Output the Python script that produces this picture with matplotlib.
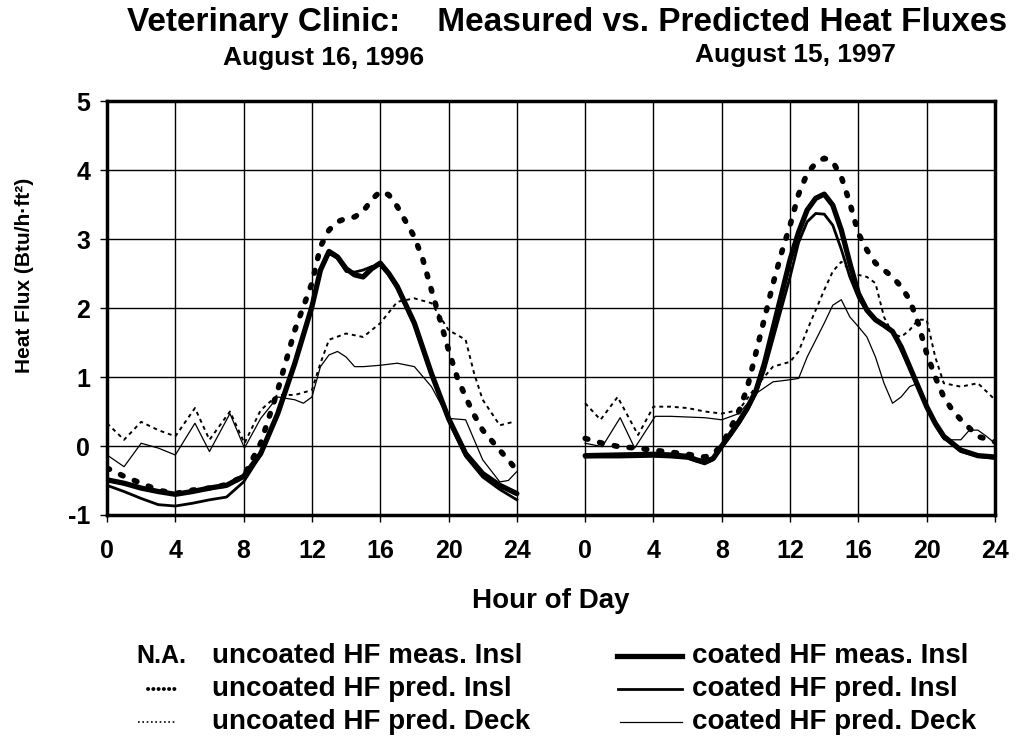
import matplotlib
matplotlib.use("Agg")
import matplotlib.pyplot as plt
from matplotlib.lines import Line2D

plt.rcParams['font.family'] = ['Liberation Sans', 'DejaVu Sans']
plt.rcParams['font.weight'] = 'bold'
plt.rcParams['axes.unicode_minus'] = False

# ---- data (hour of day, Btu/h.ft2) ----
# day 1: August 16, 1996
d1_meas_h = [0, 1, 2, 3, 4, 5, 6, 7, 8, 9, 10, 11, 12, 12.5, 13, 13.5, 14, 14.5, 15, 15.5,
             16, 16.5, 17, 18, 19, 20, 21, 22, 23, 24]
d1_meas = [-0.49, -0.54, -0.61, -0.66, -0.70, -0.66, -0.61, -0.57, -0.44, -0.11, 0.47, 1.20,
           2.02, 2.55, 2.82, 2.74, 2.57, 2.48, 2.45, 2.57, 2.65, 2.50, 2.31, 1.78, 1.05, 0.40,
           -0.11, -0.40, -0.57, -0.69]

d1_predins_h = d1_meas_h
d1_predins = [-0.57, -0.66, -0.76, -0.85, -0.87, -0.83, -0.78, -0.74, -0.52, -0.13, 0.45, 1.18,
              2.00, 2.55, 2.79, 2.72, 2.53, 2.52, 2.55, 2.60, 2.62, 2.48, 2.28, 1.75, 1.02, 0.37,
              -0.15, -0.45, -0.63, -0.78]

d1_unc_ins_h = [0, 1, 2, 3, 4, 5, 6, 7, 8, 9, 10, 11, 11.5, 12, 12.5, 13, 13.5, 14, 14.5, 15,
                15.5, 16, 16.5, 17, 17.5, 18, 18.5, 19, 19.5, 20, 20.5, 21, 21.5, 22, 23, 24]
d1_unc_ins = [-0.32, -0.44, -0.54, -0.64, -0.69, -0.64, -0.61, -0.56, -0.44, 0.04, 0.81, 1.68,
              2.02, 2.36, 2.89, 3.13, 3.25, 3.30, 3.32, 3.40, 3.57, 3.69, 3.64, 3.47, 3.25, 3.03,
              2.70, 2.26, 1.83, 1.39, 1.00, 0.71, 0.45, 0.23, -0.06, -0.35]

d1_unc_deck_h = [0, 1, 2, 3, 4, 5.15, 6, 7.2, 8.05, 9, 10, 11, 12, 12.5, 13, 14, 15, 16, 17, 18,
                 19, 20, 21, 21.5, 22, 23, 23.8]
d1_unc_deck = [0.33, 0.09, 0.35, 0.23, 0.14, 0.55, 0.09, 0.50, 0.04, 0.52, 0.74, 0.74, 0.81,
               1.20, 1.54, 1.63, 1.58, 1.78, 2.09, 2.14, 2.07, 1.68, 1.54, 1.05, 0.67, 0.30, 0.35]

d1_coat_deck_h = [0, 1, 2, 3, 4, 5.15, 6, 7.2, 8.05, 9, 10, 11, 11.5, 12, 12.5, 13, 13.5, 14,
                  14.5, 15, 16, 17, 18, 19, 20, 21, 22, 23, 23.5, 24]
d1_coat_deck = [-0.13, -0.30, 0.04, -0.03, -0.13, 0.33, -0.08, 0.47, -0.03, 0.40, 0.71, 0.67,
                0.62, 0.71, 1.15, 1.32, 1.37, 1.29, 1.15, 1.15, 1.17, 1.20, 1.15, 0.86, 0.40,
                0.38, -0.20, -0.52, -0.50, -0.37]

# day 2: August 15, 1997
d2_meas_h = [0, 2, 4, 5, 6, 6.5, 7, 7.5, 8, 8.5, 9, 9.5, 10, 10.5, 11, 11.5, 12, 12.5, 13, 13.5,
             14, 14.5, 15, 15.5, 16, 16.5, 17, 17.5, 18, 18.5, 19, 19.5, 20, 20.5, 21, 22, 23, 24]
d2_meas = [-0.14, -0.13, -0.12, -0.13, -0.15, -0.20, -0.23, -0.18, 0.0, 0.17, 0.35, 0.55, 0.80,
           1.20, 1.70, 2.20, 2.70, 3.10, 3.42, 3.59, 3.65, 3.49, 3.13, 2.65, 2.21, 1.97, 1.83,
           1.75, 1.66, 1.44, 1.15, 0.86, 0.57, 0.33, 0.14, -0.06, -0.14, -0.16]

d2_predins_h = [0, 2, 4, 5, 6, 6.5, 7, 7.5, 8, 8.5, 9, 9.5, 10, 10.5, 11, 11.5, 12, 12.5, 13,
                13.5, 14, 14.5, 15, 15.5, 16, 16.5, 17, 18, 19, 20, 21, 22, 23, 24]
d2_predins = [-0.16, -0.16, -0.15, -0.16, -0.18, -0.22, -0.26, -0.20, -0.02, 0.15, 0.32, 0.52,
              0.76, 1.10, 1.55, 2.00, 2.45, 2.95, 3.25, 3.37, 3.36, 3.20, 2.85, 2.45, 2.15, 1.95,
              1.82, 1.65, 1.13, 0.55, 0.12, -0.08, -0.15, -0.18]

d2_unc_ins_h = [0, 1, 2, 3, 4, 5, 6, 7, 7.5, 8, 8.5, 9, 9.5, 10, 10.5, 11, 11.5, 12, 12.5, 13,
                13.5, 14, 14.5, 15, 15.5, 16, 16.5, 17, 17.5, 18, 18.5, 19, 19.5, 20, 20.5, 21,
                21.5, 22, 23, 24]
d2_unc_ins = [0.11, 0.04, -0.01, -0.03, -0.06, -0.09, -0.12, -0.16, -0.12, 0.02, 0.25, 0.50,
              0.85, 1.35, 1.85, 2.35, 2.80, 3.20, 3.65, 3.95, 4.10, 4.17, 4.12, 3.90, 3.52, 3.08,
              2.84, 2.65, 2.55, 2.45, 2.31, 2.12, 1.78, 1.34, 1.00, 0.71, 0.52, 0.38, 0.14, 0.06]

d2_unc_deck_h = [0, 0.9, 1.9, 3.1, 4, 5, 6, 7, 8, 9, 10, 11, 12, 12.5, 13, 14, 14.5, 15, 15.5,
                 16, 16.5, 17, 17.5, 18, 18.5, 19, 19.5, 20, 20.5, 21, 22, 23, 24]
d2_unc_deck = [0.62, 0.38, 0.71, 0.16, 0.57, 0.57, 0.55, 0.50, 0.47, 0.52, 0.86, 1.15, 1.22,
               1.37, 1.68, 2.26, 2.53, 2.67, 2.55, 2.48, 2.45, 2.36, 1.87, 1.63, 1.58, 1.68,
               1.83, 1.83, 1.29, 0.91, 0.86, 0.91, 0.67]

d2_coat_deck_h = [0, 1, 2.05, 2.9, 4.1, 5, 6, 7, 8, 9, 10, 11, 12, 12.5, 13, 14, 14.5, 15,
                  15.5, 16, 16.5, 17, 17.5, 18, 18.5, 19, 19.5, 20, 20.5, 21, 22, 22.5, 23,
                  23.5, 24]
d2_coat_deck = [0.04, -0.01, 0.41, -0.03, 0.43, 0.43, 0.42, 0.41, 0.38, 0.47, 0.76, 0.93, 0.96,
                0.98, 1.29, 1.78, 2.04, 2.12, 1.87, 1.73, 1.58, 1.29, 0.91, 0.62, 0.71, 0.86,
                0.91, 0.62, 0.28, 0.09, 0.09, 0.23, 0.23, 0.14, 0.04]

DAY2_OFFSET = 28
tick_pos = list(range(0, 53, 4))
tick_lab = [0, 4, 8, 12, 16, 20, 24, 0, 4, 8, 12, 16, 20, 24]

# line styles
sty_meas = dict(color='black', lw=3.8, solid_capstyle='round')
sty_predins = dict(color='black', lw=2.0)
sty_deck = dict(color='black', lw=0.9)
sty_unc_ins = dict(color='black', lw=4.0, ls=(0, (0.5, 2.2)), dash_capstyle='round')
sty_unc_deck = dict(color='black', lw=1.4, ls=(0, (2.0, 2.0)))

fig = plt.figure(figsize=(10.17, 7.42), dpi=100, facecolor='white')
ax = fig.add_axes([107 / 1017, 1 - 515 / 742, 888 / 1017, 414 / 742])


def shift(hours):
    return [h + DAY2_OFFSET for h in hours]


# thin ones first, thick on top
ax.plot(d1_coat_deck_h, d1_coat_deck, **sty_deck)
ax.plot(shift(d2_coat_deck_h), d2_coat_deck, **sty_deck)
ax.plot(d1_unc_deck_h, d1_unc_deck, **sty_unc_deck)
ax.plot(shift(d2_unc_deck_h), d2_unc_deck, **sty_unc_deck)
ax.plot(d1_predins_h, d1_predins, **sty_predins)
ax.plot(shift(d2_predins_h), d2_predins, **sty_predins)
ax.plot(d1_unc_ins_h, d1_unc_ins, **sty_unc_ins)
ax.plot(shift(d2_unc_ins_h), d2_unc_ins, **sty_unc_ins)
ax.plot(d1_meas_h, d1_meas, **sty_meas)
ax.plot(shift(d2_meas_h), d2_meas, **sty_meas)

ax.set_xlim(0, 52)
ax.set_ylim(-1, 5)
ax.set_xticks(tick_pos)
ax.set_xticklabels([str(t) for t in tick_lab])
ax.set_yticks(range(-1, 6))
ax.grid(True, color='black', lw=1.0)
ax.set_axisbelow(True)
for s in ax.spines.values():
    s.set_linewidth(2.5)
ax.tick_params(axis='x', direction='out', length=5, width=1, pad=12, labelsize=18)
ax.tick_params(axis='y', direction='out', length=5, width=1, pad=7, labelsize=18)
for lab in ax.get_xticklabels() + ax.get_yticklabels():
    lab.set_fontweight('bold')

# titles / labels
fig.text(567 / 1017, 1 - 22 / 742, "Veterinary Clinic:    Measured vs. Predicted Heat Fluxes",
         ha='center', va='center', fontsize=24, fontweight='bold')
fig.text(324 / 1017, 1 - 58 / 742, "August 16, 1996", ha='center', va='center',
         fontsize=19, fontweight='bold')
fig.text(795 / 1017, 1 - 55 / 742, "August 15, 1997", ha='center', va='center',
         fontsize=19, fontweight='bold')
fig.text(551 / 1017, 1 - 601 / 742, "Hour of Day", ha='center', va='center',
         fontsize=20, fontweight='bold')
fig.text(25 / 1017, 1 - 275 / 742, "Heat Flux (Btu/h\u00b7ft\u00b2)", ha='center', va='center',
         rotation=90, fontsize=15, fontweight='bold')

# legend built by hand
rows = [656, 689, 722]
left_text = ["uncoated HF meas. Insl", "uncoated HF pred. Insl", "uncoated HF pred. Deck"]
right_text = ["coated HF meas. Insl", "coated HF pred. Insl", "coated HF pred. Deck"]


def fx(px):
    return px / 1017


def fy(py):
    return 1 - py / 742


fig.text(fx(136), fy(rows[0]), "N.A.", ha='left', va='center', fontsize=18, fontweight='bold')
fig.add_artist(Line2D([fx(148), fx(176)], [fy(rows[1]), fy(rows[1])], transform=fig.transFigure,
                      color='black', lw=2.8, ls=(0, (0.05, 1.3)), dash_capstyle='round'))
fig.add_artist(Line2D([fx(138), fx(176)], [fy(rows[2]), fy(rows[2])], transform=fig.transFigure,
                      color='black', lw=1.2, ls=(0, (1.0, 1.6))))
for r, t in zip(rows, left_text):
    fig.text(fx(212), fy(r), t, ha='left', va='center', fontsize=20, fontweight='bold')

legend_lw = [3.8, 2.0, 0.9]
legend_x0 = [617, 618, 620]
for r, t, w, x0 in zip(rows, right_text, legend_lw, legend_x0):
    fig.add_artist(Line2D([fx(x0), fx(682)], [fy(r), fy(r)], transform=fig.transFigure,
                          color='black', lw=w))
    fig.text(fx(692), fy(r), t, ha='left', va='center', fontsize=20, fontweight='bold')

fig.savefig('out.png', dpi=100, facecolor='white')
